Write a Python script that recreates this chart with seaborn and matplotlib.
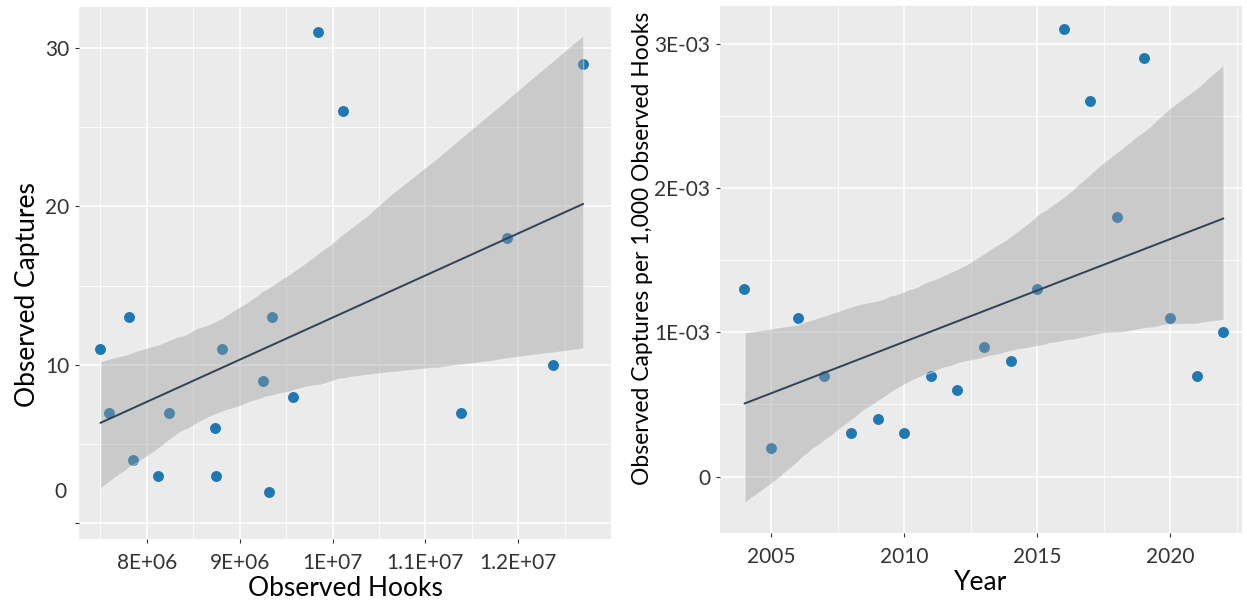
import matplotlib
matplotlib.use('Agg')
import matplotlib.pyplot as plt
from matplotlib.ticker import MultipleLocator, FixedLocator, FixedFormatter
import pandas as pd
import seaborn as sns

# left panel: observed hooks vs observed captures
hooks = [7.50e6, 7.59e6, 7.81e6, 7.85e6, 8.12e6, 8.24e6, 8.73e6, 8.75e6, 8.81e6,
         9.25e6, 9.35e6, 9.32e6, 9.57e6, 9.84e6, 10.11e6, 11.38e6, 11.88e6,
         12.38e6, 12.70e6]
captures = [11, 7, 13, 4, 3, 7, 6, 3, 11, 9, 13, 2, 8, 31, 26, 7, 18, 10, 29]

# right panel: year vs captures per 1,000 hooks
years = list(range(2004, 2023))
rate = [1.3e-3, 0.2e-3, 1.1e-3, 0.7e-3, 0.3e-3, 0.4e-3, 0.3e-3, 0.7e-3, 0.6e-3,
        0.9e-3, 0.8e-3, 1.3e-3, 3.1e-3, 2.6e-3, 1.8e-3, 2.9e-3, 1.1e-3, 0.7e-3,
        1.0e-3]

left_xticks = [8e6, 9e6, 1e7, 1.1e7, 1.2e7]
left_xlabels = ['8E+06', '9E+06', '1E+07', '1.1E+07', '1.2E+07']
left_yticks = [0, 10, 20, 30]
left_ylabels = ['', '10', '20', '30']
right_yticks = [0, 1e-3, 2e-3, 3e-3]
right_ylabels = ['0', '1E-03', '2E-03', '3E-03']

sns.set_style('darkgrid', {'axes.facecolor': '#ebebeb', 'grid.color': 'white'})
plt.rcParams['font.family'] = ['Lato', 'DejaVu Sans']

POINT = '#1f78b4'
LINE = '#2f4154'
TICK = '#333333'
TICKSIZE = 15

fig = plt.figure(figsize=(12.47, 6.07), dpi=100)
ax1 = fig.add_axes([0.0634, 0.112, 0.4266, 0.877])
ax2 = fig.add_axes([0.5774, 0.122, 0.4186, 0.868])

df1 = pd.DataFrame({'hooks': hooks, 'captures': captures})
df2 = pd.DataFrame({'year': years, 'rate': rate})

sns.regplot(data=df1, x='hooks', y='captures', ax=ax1, seed=0, ci=96,
            scatter_kws={'s': 62, 'color': POINT, 'alpha': 1, 'linewidths': 0},
            line_kws={'color': LINE, 'lw': 1.4})
sns.regplot(data=df2, x='year', y='rate', ax=ax2, seed=0, ci=96,
            scatter_kws={'s': 62, 'color': POINT, 'alpha': 1, 'linewidths': 0},
            line_kws={'color': LINE, 'lw': 1.4})

for ax in (ax1, ax2):
    band = ax.collections[-1]
    band.set_facecolor('#999999')
    band.set_alpha(0.4)
    for s in ax.spines.values():
        s.set_visible(False)
    ax.grid(which='major', color='white', lw=1.1)
    ax.grid(which='minor', color='white', lw=0.55)
    ax.tick_params(which='major', bottom=True, left=True, length=3, width=0.8,
                   color=TICK, labelcolor=TICK, labelsize=TICKSIZE)
    ax.tick_params(axis='x', which='major', pad=7)
    ax.tick_params(axis='y', which='major', pad=4)
    ax.tick_params(which='minor', bottom=False, left=False, length=0)

# left panel
ax1.set_xlim(7.27e6, 13.0e6)
ax1.set_ylim(-0.98, 32.6)
ax1.xaxis.set_major_locator(FixedLocator(left_xticks))
ax1.xaxis.set_major_formatter(FixedFormatter(left_xlabels))
ax1.xaxis.set_minor_locator(MultipleLocator(5e5))
ax1.yaxis.set_major_locator(FixedLocator(left_yticks))
ax1.yaxis.set_major_formatter(FixedFormatter(left_ylabels))
ax1.yaxis.set_minor_locator(MultipleLocator(5))
ax1.annotate('0', xy=(0, 2), xycoords=('axes fraction', 'data'),
             xytext=(-9, 0), textcoords='offset points', ha='right', va='center',
             fontsize=TICKSIZE, color=TICK)
ax1.set_xlabel('Observed Hooks', fontsize=19, color='black', labelpad=2)
ax1.set_ylabel('Observed Captures', fontsize=19, color='black', labelpad=4)
ax1.yaxis.label.set_y(0.459)

# right panel
ax2.set_xlim(2003.08, 2022.7)
ax2.set_ylim(-0.39e-3, 3.26e-3)
ax2.xaxis.set_major_locator(MultipleLocator(5))
ax2.xaxis.set_minor_locator(MultipleLocator(2.5))
ax2.yaxis.set_major_locator(FixedLocator(right_yticks))
ax2.yaxis.set_major_formatter(FixedFormatter(right_ylabels))
ax2.yaxis.set_minor_locator(MultipleLocator(0.5e-3))
ax2.set_xlabel('Year', fontsize=19, color='black', labelpad=2)
ax2.set_ylabel('Observed Captures per 1,000 Observed Hooks', fontsize=16.5,
               color='black', labelpad=1)
ax2.yaxis.label.set_y(0.541)

fig.savefig('out.png', dpi=100)
